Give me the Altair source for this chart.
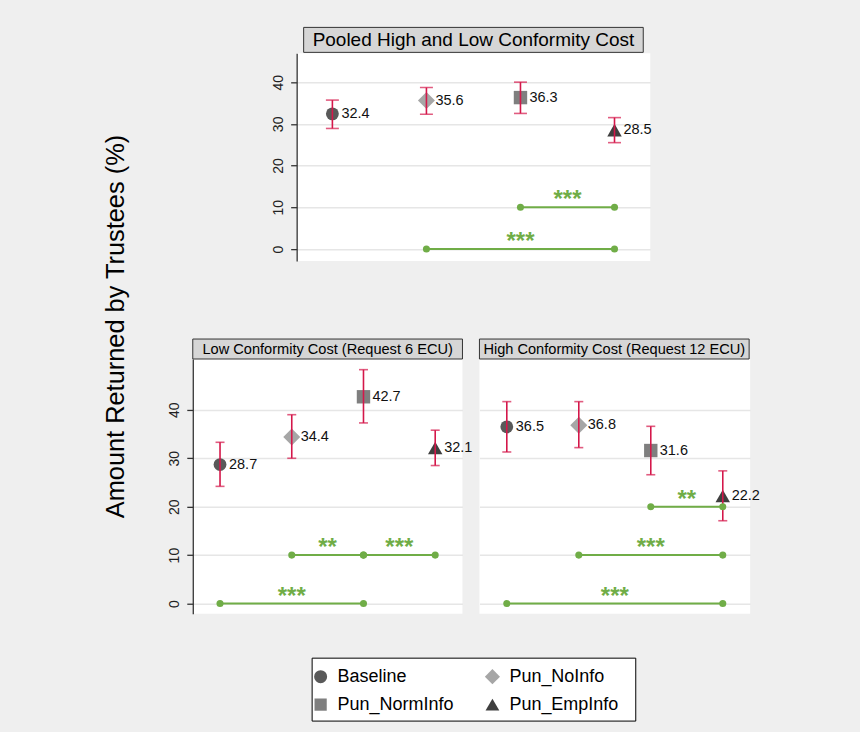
import altair as alt
import pandas as pd

# ---------------- data ----------------
treatments = ["Baseline", "Pun_NoInfo", "Pun_NormInfo", "Pun_EmpInfo"]
xpos = [1, 2, 3, 4]

pooled_mean = [32.4, 35.6, 36.3, 28.5]
pooled_lo = [28.9, 32.3, 32.5, 25.5]
pooled_hi = [35.7, 38.7, 40.0, 31.5]

low_mean = [28.7, 34.4, 42.7, 32.1]
low_lo = [24.2, 30.0, 37.3, 28.5]
low_hi = [33.3, 39.0, 48.3, 35.8]

high_mean = [36.5, 36.8, 31.6, 22.2]
high_lo = [31.3, 32.2, 26.6, 17.1]
high_hi = [41.7, 41.7, 36.6, 27.4]

# significance brackets (from treatment, to treatment, drawn at level, stars)
pooled_sig_from = [3, 2]
pooled_sig_to = [4, 4]
pooled_sig_y = [10, 0]
pooled_sig_stars = ["***", "***"]

low_sig_from = [2, 3, 1]
low_sig_to = [3, 4, 3]
low_sig_y = [10, 10, 0]
low_sig_stars = ["**", "***", "***"]

high_sig_from = [3, 2, 1]
high_sig_to = [4, 4, 4]
high_sig_y = [20, 10, 0]
high_sig_stars = ["**", "***", "***"]

y_ticks = [0, 10, 20, 30, 40]

titles = [
    "Pooled High and Low Conformity Cost",
    "Low Conformity Cost (Request 6 ECU)",
    "High Conformity Cost (Request 12 ECU)",
]
y_title = "Amount Returned by Trustees (%)"

# ---------------- styles ----------------
FONT = "Liberation Sans"
BG = "#EFEFEF"
RED = "#D4174A"
GREEN = "#70AD47"
HDR = "#D6D6D6"
shapes = ["circle", "diamond", "square", "triangle-up"]
colors = ["#595959", "#A6A6A6", "#7F7F7F", "#3F3F3F"]
msizes = [165, 290, 180, 210]
legend_sizes = [170, 230, 150, 190]

shape_scale = alt.Scale(domain=treatments, range=shapes)
color_scale = alt.Scale(domain=treatments, range=colors)


def panel(mean, lo, hi, sfrom, sto, sy, sstars, width, height, ydom, yaxis,
          title, hx0, hx1, hy0, hy1, hfs, capw):
    df = pd.DataFrame({"treat": treatments, "x": xpos, "mean": mean,
                       "lo": lo, "hi": hi, "sz": msizes})
    sig = pd.DataFrame({"x1": sfrom, "x2": sto, "y": sy, "stars": sstars})
    ends = pd.DataFrame({"x": sfrom + sto, "y": sy + sy})
    hdr = pd.DataFrame({"t": [title]})

    xs = alt.Scale(domain=[0.62, 4.38])
    ys = alt.Scale(domain=ydom)

    def X(f):
        return alt.X(f, type="quantitative", scale=xs, axis=None)

    def Y(f):
        return alt.Y(f, type="quantitative", scale=ys, axis=yaxis)

    base = alt.Chart(df)
    box = alt.Chart(hdr).mark_rect(fill=HDR, stroke="#333333", strokeWidth=1).encode(
        x=alt.value(hx0), x2=alt.value(hx1), y=alt.value(hy0), y2=alt.value(hy1))
    htxt = alt.Chart(hdr).mark_text(fontSize=hfs, color="black", baseline="middle",
                                    align="center").encode(
        x=alt.value((hx0 + hx1) / 2), y=alt.value((hy0 + hy1) / 2 + 0.5), text="t:N")

    pts = base.mark_point(filled=True, opacity=1).encode(
        x=X("x"), y=Y("mean"),
        shape=alt.Shape("treat:N", scale=shape_scale, legend=None),
        color=alt.Color("treat:N", scale=color_scale, legend=None),
        size=alt.Size("sz:Q", scale=None),
    )
    bars = base.mark_rule(color=RED, strokeWidth=1.6).encode(x=X("x"), y=Y("lo"), y2="hi")
    cap_lo = base.mark_tick(color=RED, orient="horizontal", size=capw, thickness=1.6).encode(
        x=X("x"), y=Y("lo"))
    cap_hi = base.mark_tick(color=RED, orient="horizontal", size=capw, thickness=1.6).encode(
        x=X("x"), y=Y("hi"))
    slines = alt.Chart(sig).mark_rule(color=GREEN, strokeWidth=2).encode(
        x=X("x1"), x2="x2", y=Y("y"))
    sdots = alt.Chart(ends).mark_circle(color=GREEN, size=50, opacity=1).encode(
        x=X("x"), y=Y("y"))
    sstar = alt.Chart(sig).transform_calculate(xm="(datum.x1 + datum.x2) / 2").mark_text(
        color=GREEN, fontSize=24, fontWeight="bold", baseline="alphabetic", dy=0).encode(
        x=X("xm"), y=Y("y"), text="stars:N")
    vlab = base.mark_text(align="left", baseline="middle", dx=9, fontSize=14.5,
                          color="#111111").encode(
        x=X("x"), y=Y("mean"), text=alt.Text("mean:Q", format=".1f"))

    return alt.layer(box, htxt, pts, bars, cap_lo, cap_hi, slines, sdots, sstar, vlab).properties(
        width=width, height=height)


def left_axis(title=None):
    kw = dict(values=y_ticks, grid=True, gridColor="#E6E6E6", gridWidth=1.5,
              domain=True, domainColor="#333333", domainWidth=1.3,
              ticks=True, tickSize=6, tickColor="#333333", tickWidth=1.3,
              labelAngle=270, labelAlign="center", labelBaseline="bottom",
              labelFontSize=14, labelColor="#222222", labelPadding=5,
              labelFont=FONT)
    if title:
        kw.update(title=title, titleFontSize=25.4, titleFontWeight="normal",
                  titleColor="black", titleFont=FONT, titleAngle=270,
                  titleAlign="center", titleBaseline="middle",
                  titleX=-77, titleY=-33)
    else:
        kw.update(title=None)
    return alt.Axis(**kw)


grid_only = alt.Axis(values=y_ticks, grid=True, gridColor="#E6E6E6", gridWidth=1.5,
                     domain=False, ticks=False, labels=False, title=None)

top = panel(pooled_mean, pooled_lo, pooled_hi, pooled_sig_from, pooled_sig_to,
            pooled_sig_y, pooled_sig_stars, 354, 208, [-2.9, 46.9], left_axis(),
            titles[0], 7, 347, -26, -1, 19, 13)
bl = panel(low_mean, low_lo, low_hi, low_sig_from, low_sig_to, low_sig_y,
           low_sig_stars, 270, 255, [-2.1, 50.5], left_axis(y_title),
           titles[1], 0, 270, -20, 0, 14.6, 9)
br = panel(high_mean, high_lo, high_hi, high_sig_from, high_sig_to, high_sig_y,
           high_sig_stars, 271, 255, [-2.1, 50.5], grid_only,
           titles[2], 0, 270, -20, 0, 14.6, 9)

# ---------------- legend (2 x 2 key in a white box) ----------------
leg_df = pd.DataFrame({
    "treat": treatments,
    "col": [i % 2 for i in range(len(treatments))],
    "row": [i // 2 for i in range(len(treatments))],
    "sz": legend_sizes,
})
lx = alt.Scale(domain=[0, 1], range=[9, 181])
ly = alt.Scale(domain=[0, 1], range=[19, 47])
leg_pts = alt.Chart(leg_df).mark_point(filled=True, opacity=1).encode(
    x=alt.X("col:Q", scale=lx, axis=None),
    y=alt.Y("row:Q", scale=ly, axis=None),
    shape=alt.Shape("treat:N", scale=shape_scale, legend=None),
    color=alt.Color("treat:N", scale=color_scale, legend=None),
    size=alt.Size("sz:Q", scale=None),
)
leg_txt = alt.Chart(leg_df).mark_text(align="left", baseline="middle", dx=17,
                                      fontSize=18, color="black").encode(
    x=alt.X("col:Q", scale=lx, axis=None),
    y=alt.Y("row:Q", scale=ly, axis=None),
    text="treat:N",
)
legend_box = alt.layer(leg_pts, leg_txt).properties(
    width=324, height=63,
    view=alt.ViewBackground(fill="white", stroke="black", strokeWidth=1))


def spacer(w, h):
    return alt.Chart(pd.DataFrame({"a": [0]})).mark_point(opacity=0).properties(
        width=w, height=h,
        view=alt.ViewBackground(fill="transparent", strokeWidth=0))


top_row = alt.hconcat(spacer(104, 208), top, spacing=0, bounds="flush")
bot_row = alt.hconcat(bl, br, spacing=17, bounds="flush")
leg_row = alt.hconcat(spacer(119, 63), legend_box, spacing=0, bounds="flush")

# nested rows count as zero height with flush bounds, so spacing carries row offsets
lower = alt.vconcat(bot_row, leg_row, spacing=299, bounds="flush")
chart = alt.vconcat(top_row, lower, spacing=306, bounds="flush").properties(
    background=BG,
    padding={"left": 103, "top": 26, "right": 100, "bottom": 12},
).configure(font=FONT).configure_view(fill="white", strokeWidth=0)

chart.save("out.html", embed_options={"renderer": "svg", "actions": False})
